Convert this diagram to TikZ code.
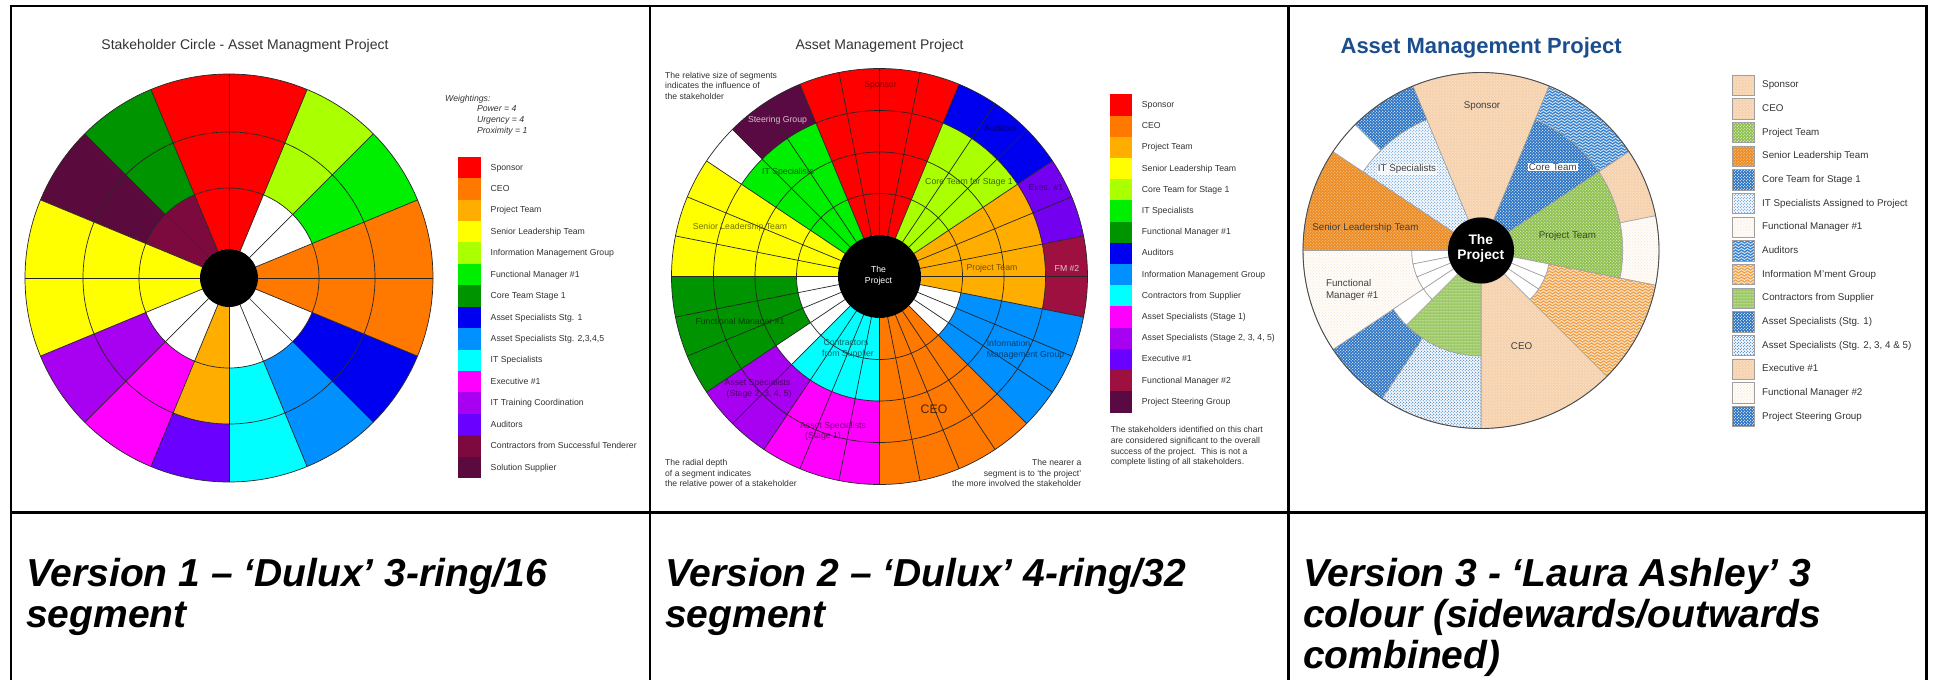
\documentclass[tikz,border=0pt]{standalone}
\usepackage{fontspec}
\setmainfont{Liberation Sans}
\usetikzlibrary{patterns}
\pgfdeclarepatternformonly{mydots}{\pgfqpoint{-0.85pt}{-0.85pt}}{\pgfqpoint{2.55pt}{2.55pt}}{\pgfqpoint{3.4pt}{3.4pt}}{%
  \pgfpathcircle{\pgfqpoint{0pt}{0pt}}{0.7pt}%
  \pgfpathcircle{\pgfqpoint{1.7pt}{1.7pt}}{0.7pt}%
  \pgfusepath{fill}}
\pgfdeclarepatternformonly{mywaves}{\pgfqpoint{0pt}{-0.6pt}}{\pgfqpoint{6pt}{3.6pt}}{\pgfqpoint{6pt}{3pt}}{%
  \pgfsetlinewidth{0.8pt}%
  \pgfpathmoveto{\pgfqpoint{0pt}{1.5pt}}%
  \pgfpathcurveto{\pgfqpoint{1pt}{2.8pt}}{\pgfqpoint{2pt}{2.8pt}}{\pgfqpoint{3pt}{1.5pt}}%
  \pgfpathcurveto{\pgfqpoint{4pt}{0.2pt}}{\pgfqpoint{5pt}{0.2pt}}{\pgfqpoint{6pt}{1.5pt}}%
  \pgfusepath{stroke}}
\pgfdeclarepatternformonly{myhlines}{\pgfqpoint{0pt}{0pt}}{\pgfqpoint{3pt}{2.6pt}}{\pgfqpoint{3pt}{2.6pt}}{%
  \pgfsetlinewidth{0.7pt}%
  \pgfpathmoveto{\pgfqpoint{0pt}{1.3pt}}\pgfpathlineto{\pgfqpoint{3pt}{1.3pt}}%
  \pgfusepath{stroke}}
% colours, versions 1 and 2
\definecolor{kR}{HTML}{FF0000}
\definecolor{kO}{HTML}{FF7800}
\definecolor{kPT}{HTML}{FFAE00}
\definecolor{kY}{HTML}{FFFF00}
\definecolor{kYG}{HTML}{AAFF00}
\definecolor{kFG}{HTML}{00EE00}
\definecolor{kDG}{HTML}{009400}
\definecolor{kB}{HTML}{0000F0}
\definecolor{kLB}{HTML}{0090FF}
\definecolor{kC}{HTML}{00FFFF}
\definecolor{kMg}{HTML}{FF00FF}
\definecolor{kP}{HTML}{A800F0}
\definecolor{kAu}{HTML}{6A00FF}
\definecolor{kM1}{HTML}{7C0A3E}
\definecolor{kM2}{HTML}{5A0A3C}
\definecolor{kW}{HTML}{FFFFFF}
\definecolor{kEx}{HTML}{7400F0}
\definecolor{kFM2}{HTML}{9E1040}
\definecolor{kSG}{HTML}{5A0A42}
% colours, version 3
\definecolor{tPeach}{HTML}{F5D0AA}
\definecolor{tPeachDot}{HTML}{FBE8D6}
\definecolor{tGreen}{HTML}{8CBF4A}
\definecolor{tOrange}{HTML}{EC8A22}
\definecolor{tBlue}{HTML}{2570C2}
\definecolor{tBlueDot}{HTML}{4C90D8}
\definecolor{tWave}{HTML}{3A83CF}
\definecolor{tOrWave}{HTML}{F0A24A}
\definecolor{tStripe}{HTML}{9CC965}
\definecolor{tTitle}{HTML}{1B4E8C}
\definecolor{txt}{HTML}{333333}

\newcommand{\annsec}[5]{\path[#1] (#2:#4) arc[start angle=#2, end angle=#3, radius=#4pt] -- (#3:#5) arc[start angle=#3, end angle=#2, radius=#5pt] -- cycle;}

\tikzset{
  frameline/.style={line width=2.2pt, black},
  gridline/.style={line width=0.7pt, black!85},
  captxt/.style={font=\fontsize{39}{42}\selectfont\bfseries\itshape, anchor=base west, inner sep=0pt},
  ttl/.style={font=\fontsize{14}{16}\selectfont, inner sep=0pt, anchor=mid, text=txt},
  leg/.style={font=\fontsize{8.7}{10}\selectfont, inner sep=0pt, anchor=mid west, text=txt},
  leg3/.style={font=\fontsize{9.8}{11}\selectfont, inner sep=0pt, anchor=mid west, text=txt},
  notetxt/.style={font=\fontsize{8.6}{10}\selectfont, inner sep=0pt, anchor=mid west, text=txt},
  notertxt/.style={notetxt, anchor=mid east},
  wgt/.style={font=\fontsize{8.7}{10}\selectfont\itshape, inner sep=0pt, anchor=mid west, text=txt},
  v2lab/.style={font=\fontsize{8.7}{10}\selectfont, inner sep=0pt, anchor=mid},
  v3lab/.style={font=\fontsize{9.8}{11}\selectfont, inner sep=0pt, anchor=mid, text=black!75},
  v3o/.style={postaction={draw=gray!75, line width=0.6pt}},
  pSp/.style={fill=tPeach, postaction={pattern=mydots, pattern color=tPeachDot}},
  pPT/.style={fill=tGreen, postaction={pattern=mydots, pattern color=white!75!tGreen}},
  pSLT/.style={fill=tOrange, postaction={pattern=mydots, pattern color=white!50!tOrange}},
  pCore/.style={fill=tBlue, postaction={pattern=mydots, pattern color=white}},
  pIT/.style={fill=white, postaction={pattern=mydots, pattern color=tBlueDot}},
  pFM/.style={fill=white, postaction={pattern=mydots, pattern color=tPeach!60}},
  pAud/.style={fill=tWave, postaction={pattern=mywaves, pattern color=white!85!tWave}},
  pIMG/.style={fill=tOrWave, postaction={pattern=mywaves, pattern color=white!80!tOrWave}},
  pCon/.style={fill=tStripe, postaction={pattern=myhlines, pattern color=white!75!tStripe}},
  pAS1/.style={fill=tBlue, postaction={pattern=mydots, pattern color=white}},
  pAS2/.style={fill=white, postaction={pattern=mydots, pattern color=tBlue}},
}

\newcommand{\legthree}[3]{%
  \path[#1, v3o] (1732,{73.3+#2*23.67+1.5}) rectangle (1754,{73.3+#2*23.67+22});
  \node[leg3] (l3-#2) at (1762,{73.3+#2*23.67+11.8}) {#3};}

\begin{document}
\begin{tikzpicture}[x=1pt,y=-1pt]
\useasboundingbox (0,0) rectangle (1933,680);
\fill[white] (0,0) rectangle (1933,680);

% ---------------- frame ----------------
\draw[frameline] (11,690) -- (11,6) -- (1926.5,6) -- (1926.5,690);
\draw[frameline] (11,512.5) -- (1926.5,512.5);
\draw[frameline] (650,6) -- (650,690);
\draw[frameline] (1288.5,6) -- (1288.5,690);

% ---------------- captions ----------------
\node[captxt] (c1a) at (26,586) {Version 1 – ‘Dulux’ 3-ring/16};
\node[captxt] (c1b) at (26,627) {segment};
\node[captxt] (c2a) at (665,586) {Version 2 – ‘Dulux’ 4-ring/32};
\node[captxt] (c2b) at (665,627) {segment};
\node[captxt] (c3a) at (1303,586) {Version 3 - ‘Laura Ashley’ 3};
\node[captxt] (c3b) at (1303,627) {colour (sidewards/outwards};
\node[captxt] (c3c) at (1303,668) {combined)};

% ================= VERSION 1 =================
\node[ttl] (t1) at (245,46.7) {Stakeholder Circle - Asset Managment Project};
\begin{scope}[shift={(229pt,-278pt)}, x=1pt, y=1pt]
  \foreach \ca/\cb/\cc [count=\k from 0] in {kO/kO/kO, kW/kFG/kFG, kW/kYG/kYG, kR/kR/kR,
      kR/kR/kR, kM1/kDG/kDG, kM1/kM2/kM2, kY/kY/kY, kY/kY/kY, kW/kP/kP, kW/kMg/kMg,
      kPT/kPT/kAu, kW/kC/kC, kW/kLB/kLB, kW/kB/kB, kO/kO/kO}{
    \pgfmathsetmacro{\aS}{\k*22.5}
    \pgfmathsetmacro{\aE}{\k*22.5+22.5}
    \annsec{fill=\ca}{\aS}{\aE}{29}{90}
    \annsec{fill=\cb}{\aS}{\aE}{90}{146}
    \annsec{fill=\cc}{\aS}{\aE}{146}{204}
  }
  \foreach \k in {0,...,15} \draw[gridline] ({\k*22.5}:29) -- ({\k*22.5}:204);
  \foreach \r in {90,146,204} \draw[gridline] (0,0) circle[radius=\r pt];
  \fill[black] (0,0) circle[radius=29pt];
\end{scope}
\node[wgt] (w0) at (445,99.3) {Weightings:};
\node[wgt] (w1) at (476.8,109) {Power = 4};
\node[wgt] (w2) at (476.8,119.5) {Urgency = 4};
\node[wgt] (w3) at (476.8,130.5) {Proximity = 1};
\foreach \cl/\tx [count=\i from 0] in {kR/Sponsor, kO/CEO, kPT/Project Team, kY/Senior Leadership Team,
    kYG/Information Management Group, kFG/Functional Manager \#1, kDG/Core Team Stage 1,
    kB/Asset Specialists Stg. 1, kLB/{Asset Specialists Stg. 2,3,4,5}, kC/IT Specialists,
    kMg/Executive \#1, kP/IT Training Coordination, kAu/Auditors,
    kM1/Contractors from Successful Tenderer, kM2/Solution Supplier}{
  \fill[\cl] (458,{156.7+\i*21.43}) rectangle (481,{156.7+\i*21.43+21.6});
  \node[leg] (l1-\i) at (490.5,{156.7+\i*21.43+10.7}) {\tx};
}

% ================= VERSION 2 =================
\node[ttl] (t2) at (879.6,46.7) {Asset Management Project};
\begin{scope}[shift={(879.5pt,-276.5pt)}, x=1pt, y=1pt]
  \fill[white] (0,0) circle[radius=208pt];
  \foreach \cl/\a/\b/\ri/\ro in {kR/67.5/112.5/41.5/208, kYG/33.75/67.5/41.5/166,
      kB/33.75/67.5/166/208, kPT/-11.25/33.75/41.5/166, kEx/11.25/33.75/166/208,
      kFM2/-11.25/11.25/166/208, kLB/-45/-11.25/83/208, kO/-90/-45/41.5/208,
      kC/225/270/41.5/124.5, kMg/236.25/270/124.5/208, kP/213.75/236.25/124.5/208,
      kDG/180/213.75/83/208, kY/146.25/180/41.5/208, kFG/112.5/146.25/41.5/166,
      kSG/112.5/135/166/208}{
    \annsec{fill=\cl}{\a}{\b}{\ri}{\ro}
  }
  \foreach \k in {0,...,31} \draw[gridline] ({\k*11.25}:41.5) -- ({\k*11.25}:208);
  \foreach \r in {83,124.5,166,208} \draw[gridline] (0,0) circle[radius=\r pt];
  \fill[black] (0,0) circle[radius=41.5pt];
\end{scope}
\node[v2lab, text=kR!55!black] (v2sp) at (880.5,84.5) {Sponsor};
\node[v2lab, text=white!75!kSG] (v2sg) at (777.5,120) {Steering Group};
\node[v2lab, text=kB!45!black] (v2au) at (1000.5,129) {Auditors};
\node[v2lab, text=kFG!40!black] (v2it) at (788,171.7) {IT Specialists};
\node[v2lab, text=kYG!40!black] (v2ct) at (969,181.7) {Core Team for Stage 1};
\node[v2lab, text=kEx!45!black] (v2ex) at (1046,188.3) {Exec. \#1};
\node[v2lab, text=kY!45!black] (v2slt) at (740,227) {Senior Leadership Team};
\node[v2lab, text=white] (v2c1) at (878.5,270) {The};
\node[v2lab, text=white] (v2c2) at (878.5,281) {Project};
\node[v2lab, text=kPT!45!black] (v2pt) at (992,268) {Project Team};
\node[v2lab, text=white!75!kFM2] (v2fm2) at (1067,269) {FM \#2};
\node[v2lab, text=kDG!45!black] (v2fm1) at (740,322) {Functional Manager \#1};
\node[v2lab, text=kC!40!black] (v2co1) at (846,343.3) {Contractors};
\node[v2lab, text=kC!40!black] (v2co2) at (848,354.3) {from Supplier};
\node[v2lab, text=kLB!45!black] (v2im1) at (1008.5,344) {Information};
\node[v2lab, text=kLB!45!black] (v2im2) at (1025.5,355) {Management Group};
\node[v2lab, text=kP!45!black] (v2a21) at (757.5,383.3) {Asset Specialists};
\node[v2lab, text=kP!45!black] (v2a22) at (759,393.7) {(Stage 2, 3, 4, 5)};
\node[v2lab, font=\fontsize{12.3}{14}\selectfont, text=kO!30!black] (v2ceo) at (934,411) {CEO};
\node[v2lab, text=kMg!45!black] (v2a11) at (833,426) {Asset Specialists};
\node[v2lab, text=kMg!45!black] (v2a12) at (823,436) {(Stage 1)};
% notes
\node[notetxt] (n1a) at (665,76) {The relative size of segments};
\node[notetxt] (n1b) at (665,86.3) {indicates the influence of};
\node[notetxt] (n1c) at (665,96.7) {the stakeholder};
\node[notetxt] (n2a) at (665,463.3) {The radial depth};
\node[notetxt] (n2b) at (665,473.7) {of a segment indicates};
\node[notetxt] (n2c) at (665,484) {the relative power of a stakeholder};
\node[notertxt] (n3a) at (1081.5,463.3) {The nearer a};
\node[notertxt] (n3b) at (1081.5,473.7) {segment is to ‘the project’};
\node[notertxt] (n3c) at (1081.5,484) {the more involved the stakeholder};
\node[notetxt] (n4a) at (1110.6,430) {The stakeholders identified on this chart};
\node[notetxt] (n4b) at (1110.6,440.7) {are considered significant to the overall};
\node[notetxt] (n4c) at (1110.6,451.5) {success of the project.\ \ This is not a};
\node[notetxt] (n4d) at (1110.6,462.2) {complete listing of all stakeholders.};
\foreach \cl/\tx [count=\i from 0] in {kR/Sponsor, kO/CEO, kPT/Project Team, kY/Senior Leadership Team,
    kYG/Core Team for Stage 1, kFG/IT Specialists, kDG/Functional Manager \#1, kB/Auditors,
    kLB/Information Management Group, kC/Contractors from Supplier, kMg/Asset Specialists (Stage 1),
    kP/{Asset Specialists (Stage 2, 3, 4, 5)}, kAu/Executive \#1, kFM2/Functional Manager \#2,
    kSG/Project Steering Group}{
  \fill[\cl] (1109.7,{94.3+\i*21.2}) rectangle (1132.1,{94.3+\i*21.2+21.4});
  \node[leg] (l2-\i) at (1141.7,{94.3+\i*21.2+10.6}) {\tx};
}

% ================= VERSION 3 =================
\node[font=\fontsize{22}{24}\selectfont\bfseries, text=tTitle, inner sep=0pt, anchor=mid west] (t3) at (1340.4,51) {Asset Management Project};
\begin{scope}[shift={(1481pt,-250.5pt)}, x=1pt, y=1pt]
  \annsec{pSp,v3o}{67.5}{112.5}{33}{178}
  \annsec{pCore,v3o}{33.75}{67.5}{33}{141.75}
  \annsec{pAud,v3o}{33.75}{67.5}{141.75}{178}
  \annsec{pPT,v3o}{-11.25}{33.75}{33}{141.75}
  \annsec{pSp,v3o}{11.25}{33.75}{141.75}{178}
  \annsec{pFM,v3o}{-11.25}{11.25}{141.75}{178}
  \annsec{pIMG,v3o}{-45}{-11.25}{69.25}{178}
  \annsec{pSp,v3o}{-90}{-45}{33}{178}
  \annsec{pCon,v3o}{225}{270}{33}{105.5}
  \annsec{pAS2,v3o}{236.25}{270}{105.5}{178}
  \annsec{pAS1,v3o}{213.75}{236.25}{105.5}{178}
  \annsec{pFM,v3o}{180}{213.75}{69.25}{178}
  \annsec{pSLT,v3o}{146.25}{180}{33}{178}
  \annsec{pIT,v3o}{112.5}{146.25}{33}{141.75}
  \annsec{pCore,v3o}{112.5}{135}{141.75}{178}
  \annsec{fill=white,v3o}{135}{146.25}{141.75}{178}
  \annsec{fill=white,v3o}{180}{191.25}{33}{69.25}
  \annsec{fill=white,v3o}{191.25}{202.5}{33}{69.25}
  \annsec{fill=white,v3o}{202.5}{213.75}{33}{69.25}
  \annsec{fill=white,v3o}{213.75}{225}{33}{69.25}
  \annsec{fill=white,v3o}{213.75}{225}{69.25}{105.5}
  \annsec{fill=white,v3o}{315}{326.25}{33}{69.25}
  \annsec{fill=white,v3o}{326.25}{337.5}{33}{69.25}
  \annsec{fill=white,v3o}{337.5}{348.75}{33}{69.25}
  \draw[black!70, line width=0.9pt] (0,0) circle[radius=178pt];
  \fill[black] (0,0) circle[radius=33pt];
\end{scope}
\node[v3lab] (v3sp) at (1482,106) {Sponsor};
\node[v3lab, fill=white, inner sep=1pt] (v3ct) at (1552.8,167.7) {Core Team};
\node[v3lab, fill=white, fill opacity=0.7, text opacity=1, inner sep=1pt] (v3it) at (1407,169.3) {IT Specialists};
\node[v3lab] (v3slt) at (1365.4,228.3) {Senior Leadership Team};
\node[v3lab, text=tGreen!40!black] (v3pt) at (1567.4,236) {Project Team};
\node[v3lab, font=\fontsize{13.8}{15}\selectfont\bfseries, text=white] (v3c1) at (1480.8,241.5) {The};
\node[v3lab, font=\fontsize{13.8}{15}\selectfont\bfseries, text=white] (v3c2) at (1480.8,256.5) {Project};
\node[v3lab, anchor=mid west] (v3fa) at (1325.8,284.3) {Functional};
\node[v3lab, anchor=mid west] (v3fb) at (1325.8,296) {Manager \#1};
\node[v3lab] (v3ceo) at (1521.6,346.7) {CEO};
\foreach \st/\tx [count=\i from 0] in {pSp/Sponsor, pSp/CEO, pPT/Project Team, pSLT/Senior Leadership Team,
    pCore/Core Team for Stage 1, pIT/IT Specialists Assigned to Project, pFM/Functional Manager \#1,
    pAud/Auditors, pIMG/Information M'ment Group, pCon/Contractors from Supplier,
    pAS1/Asset Specialists (Stg. 1), pAS2/{Asset Specialists (Stg. 2, 3, 4 \& 5)},
    pSp/Executive \#1, pFM/Functional Manager \#2, pCore/Project Steering Group}{
  \expandafter\legthree\expandafter{\st}{\i}{\tx}
}
\end{tikzpicture}
\end{document}
